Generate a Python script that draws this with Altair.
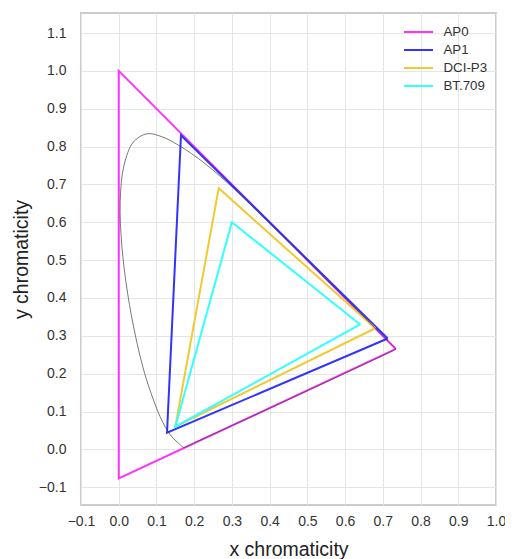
import altair as alt
import pandas as pd

# Gamut primaries (R, G, B) chromaticities
series_names = ["AP0", "AP1", "DCI-P3", "BT.709"]
series_colors = ["#ff33ff", "#3333ff", "#f2c933", "#33ffff"]
gamut_x = {
    "AP0": [0.7347, 0.0000, 0.0001],
    "AP1": [0.713, 0.165, 0.128],
    "DCI-P3": [0.680, 0.265, 0.150],
    "BT.709": [0.640, 0.300, 0.150],
}
gamut_y = {
    "AP0": [0.2653, 1.0000, -0.0770],
    "AP1": [0.293, 0.830, 0.044],
    "DCI-P3": [0.320, 0.690, 0.060],
    "BT.709": [0.330, 0.600, 0.060],
}

# CIE 1931 2-degree spectral locus, 380-700 nm at 5 nm steps
locus_x = [0.1741, 0.1740, 0.1738, 0.1736, 0.1733, 0.1730, 0.1726, 0.1721, 0.1714, 0.1703,
           0.1689, 0.1669, 0.1644, 0.1611, 0.1566, 0.1510, 0.1440, 0.1355, 0.1241, 0.1096,
           0.0913, 0.0687, 0.0454, 0.0235, 0.0082, 0.0039, 0.0139, 0.0389, 0.0743, 0.1142,
           0.1547, 0.1929, 0.2296, 0.2658, 0.3016, 0.3373, 0.3731, 0.4087, 0.4441, 0.4788,
           0.5125, 0.5448, 0.5752, 0.6029, 0.6270, 0.6482, 0.6658, 0.6801, 0.6915, 0.7006,
           0.7079, 0.7140, 0.7190, 0.7230, 0.7260, 0.7283, 0.7300, 0.7311, 0.7320, 0.7327,
           0.7334, 0.7340, 0.7344, 0.7346, 0.7347]
locus_y = [0.0050, 0.0050, 0.0049, 0.0049, 0.0048, 0.0048, 0.0048, 0.0048, 0.0051, 0.0058,
           0.0069, 0.0086, 0.0109, 0.0138, 0.0177, 0.0227, 0.0297, 0.0399, 0.0578, 0.0868,
           0.1327, 0.2007, 0.2950, 0.4127, 0.5384, 0.6548, 0.7502, 0.8120, 0.8338, 0.8262,
           0.8059, 0.7816, 0.7543, 0.7243, 0.6923, 0.6589, 0.6245, 0.5896, 0.5547, 0.5202,
           0.4866, 0.4544, 0.4242, 0.3965, 0.3725, 0.3514, 0.3340, 0.3197, 0.3083, 0.2993,
           0.2920, 0.2859, 0.2809, 0.2770, 0.2740, 0.2717, 0.2700, 0.2689, 0.2680, 0.2673,
           0.2666, 0.2660, 0.2656, 0.2654, 0.2653]

tick_values = [round(-0.1 + 0.1 * i, 1) for i in range(13)]

rows = []
for s in series_names:
    xs = gamut_x[s] + [gamut_x[s][0]]
    ys = gamut_y[s] + [gamut_y[s][0]]
    for i, (a, b) in enumerate(zip(xs, ys)):
        rows.append({"series": s, "i": i, "x": a, "y": b})
gamut_df = pd.DataFrame(rows)

lx = locus_x + [locus_x[0]]
ly = locus_y + [locus_y[0]]
locus_df = pd.DataFrame({"i": list(range(len(lx))), "x": lx, "y": ly})

label_expr = "replace(format(datum.value, '.1f'), '-', '\u2212')"

xscale = alt.Scale(domain=[-0.1, 1.0], nice=False, zero=False)
yscale = alt.Scale(domain=[-0.147, 1.153], nice=False, zero=False)


def xaxis():
    return alt.Axis(values=tick_values, labelExpr=label_expr, title="x chromaticity",
                    labelPadding=9, titlePadding=12, labelOverlap=False, labelFlush=False)


def yaxis():
    return alt.Axis(values=tick_values, labelExpr=label_expr, title="y chromaticity",
                    labelPadding=15, titlePadding=7, labelOverlap=False, labelFlush=False)


gamuts = alt.Chart(gamut_df).mark_line(strokeWidth=2).encode(
    x=alt.X("x:Q", scale=xscale, axis=xaxis()),
    y=alt.Y("y:Q", scale=yscale, axis=yaxis()),
    color=alt.Color(
        "series:N",
        scale=alt.Scale(domain=series_names, range=series_colors),
        title=None,
        legend=alt.Legend(
            orient="none", legendX=326.5, legendY=8,
            symbolType="M-1.45,0H1.45", symbolSize=400, symbolStrokeWidth=2,
            labelFontSize=13.3, labelColor="#333333", labelFont="Liberation Sans",
            labelOffset=14, rowPadding=0,
        ),
    ),
    order="i:Q",
)

locus = alt.Chart(locus_df).mark_line(
    strokeWidth=1, color="#404040", opacity=0.7, interpolate="catmull-rom"
).encode(
    x=alt.X("x:Q", scale=xscale, axis=xaxis()),
    y=alt.Y("y:Q", scale=yscale, axis=yaxis()),
    order="i:Q",
)

chart = alt.layer(gamuts, locus).properties(
    width=415, height=492,
    autosize=alt.AutoSizeParams(type="none"),
    padding={"left": 73, "top": 5, "right": 9, "bottom": 54},
    background="white",
).configure_view(
    stroke="#cccccc", strokeWidth=2,
).configure_axis(
    grid=True, gridColor="#e5e5e5", gridWidth=1,
    domain=False, ticks=False, labelOverlap=False,
    labelFont="Liberation Sans", labelFontSize=14, labelColor="#333333",
    titleFont="Liberation Sans", titleFontSize=19.5, titleFontWeight="normal", titleColor="#222222",
)

chart.save("out.html", embed_options={"renderer": "svg", "actions": False})
